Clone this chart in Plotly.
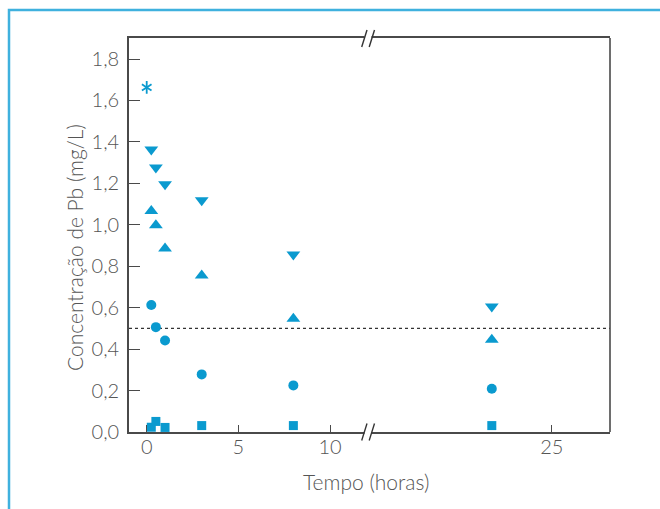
import plotly.graph_objects as go

# ---- data ----
times_early = [0.25, 0.5, 1, 3, 8]
time_late = [24]
down_tri = [1.363, 1.276, 1.196, 1.118, 0.857]
down_tri_late = [0.606]
up_tri = [1.067, 0.998, 0.885, 0.755, 0.547]
up_tri_late = [0.445]
circles = [0.613, 0.506, 0.442, 0.278, 0.225]
circles_late = [0.209]
squares = [0.023, 0.051, 0.022, 0.031, 0.031]
squares_late = [0.031]
asterisk_t = [0]
asterisk_v = [1.663]
limit = 0.5
y_ticks = [0.0, 0.2, 0.4, 0.6, 0.8, 1.0, 1.2, 1.4, 1.6, 1.8]
x_ticks_left = [0, 5, 10]
x_ticks_right = [25]

BLUE = "#0a9acf"
AX = "#4a4a4a"
TICKFONT = dict(family="Lato", size=20, color="#555555", weight=300)
TITLEFONT = dict(family="Lato", size=21, color="#555555", weight=300)

W, H = 660, 509
L, R, T, B = 129, 50, 38, 77
PW, PH = W - L - R, H - T - B


def px(x):
    return (x - L) / PW


def py(y):
    return (H - B - y) / PH


split = px(370)

fig = go.Figure()

series = [
    (down_tri, down_tri_late, "triangle-down", 12),
    (up_tri, up_tri_late, "triangle-up", 12),
    (circles, circles_late, "circle", 10),
    (squares, squares_late, "square", 9),
]
for early, late, sym, size in series:
    fig.add_trace(go.Scatter(x=times_early, y=early, mode="markers",
                             marker=dict(symbol=sym, size=size, color=BLUE, line=dict(width=0)),
                             xaxis="x", yaxis="y", showlegend=False))
    fig.add_trace(go.Scatter(x=time_late, y=late, mode="markers",
                             marker=dict(symbol=sym, size=size, color=BLUE, line=dict(width=0)),
                             xaxis="x2", yaxis="y", showlegend=False))

# six-armed asterisk = y-up + y-down
for sym in ("y-up-open", "y-down-open"):
    fig.add_trace(go.Scatter(x=asterisk_t, y=asterisk_v, mode="markers",
                             marker=dict(symbol=sym, size=8, color=BLUE,
                                         line=dict(width=1.8, color=BLUE)),
                             xaxis="x", yaxis="y", showlegend=False))

axis_common = dict(showline=True, linecolor=AX, linewidth=1.6, mirror=True,
                   ticks="inside", ticklen=7, tickwidth=1.3, tickcolor=AX,
                   showgrid=False, zeroline=False, tickfont=TICKFONT,
                   ticklabelstandoff=-4)

fig.update_layout(
    width=W, height=H,
    margin=dict(l=L, r=R, t=T, b=B),
    paper_bgcolor="white", plot_bgcolor="white",
    separators=",.",
    xaxis=dict(domain=[0, split], range=[-0.966, 12.18], tickvals=x_ticks_left,
               anchor="y", **axis_common),
    xaxis2=dict(domain=[split, 1], range=[21.97, 25.97], tickvals=x_ticks_right,
                anchor="y", **axis_common),
    yaxis=dict(range=[0, 1.9015], tickvals=y_ticks, tickformat=".1f",
               showline=True, linecolor=AX, linewidth=1.6,
               ticks="inside", ticklen=11, tickwidth=1.3, tickcolor=AX,
               showgrid=False, zeroline=False, tickfont=TICKFONT, ticklabelstandoff=4),
)

shapes = []
# limit line
shapes.append(dict(type="line", xref="paper", yref="y", x0=0, x1=1, y0=limit, y1=limit,
                   line=dict(color="#333333", width=1.2, dash="dot"), layer="below"))
# right border
shapes.append(dict(type="line", xref="paper", yref="paper", x0=1, x1=1, y0=0, y1=1,
                   line=dict(color=AX, width=1.6)))
# break marks
for yc in (38.5, 432):
    shapes.append(dict(type="rect", xref="paper", yref="paper",
                       x0=px(364.5), x1=px(371.5), y0=py(yc + 3), y1=py(yc - 3),
                       fillcolor="white", line=dict(width=0), layer="above"))
    for xo in (361.7, 369.2):
        shapes.append(dict(type="line", xref="paper", yref="paper",
                           x0=px(xo), y0=py(yc + 8.5), x1=px(xo + 5.3), y1=py(yc - 8.5),
                           line=dict(color="#333333", width=1.4), layer="above"))
# outer blue frame
shapes.append(dict(type="rect", xref="paper", yref="paper",
                   x0=px(9), x1=px(720), y0=py(560), y1=py(10),
                   line=dict(color="#3fb1de", width=2.5), fillcolor="rgba(0,0,0,0)"))
fig.update_layout(shapes=shapes)

fig.add_annotation(text="Tempo (horas)", xref="paper", yref="paper",
                   x=px(366), y=py(481), showarrow=False, font=TITLEFONT,
                   xanchor="center", yanchor="middle")
fig.add_annotation(text="Concentração de Pb (mg/L)", xref="paper", yref="paper",
                   x=px(75), y=py(248), showarrow=False, font=TITLEFONT, textangle=-90,
                   xanchor="center", yanchor="middle")

fig.write_html("out.html", config={"displayModeBar": False},
               post_script="document.body.style.margin='0';document.body.style.overflow='hidden';")
